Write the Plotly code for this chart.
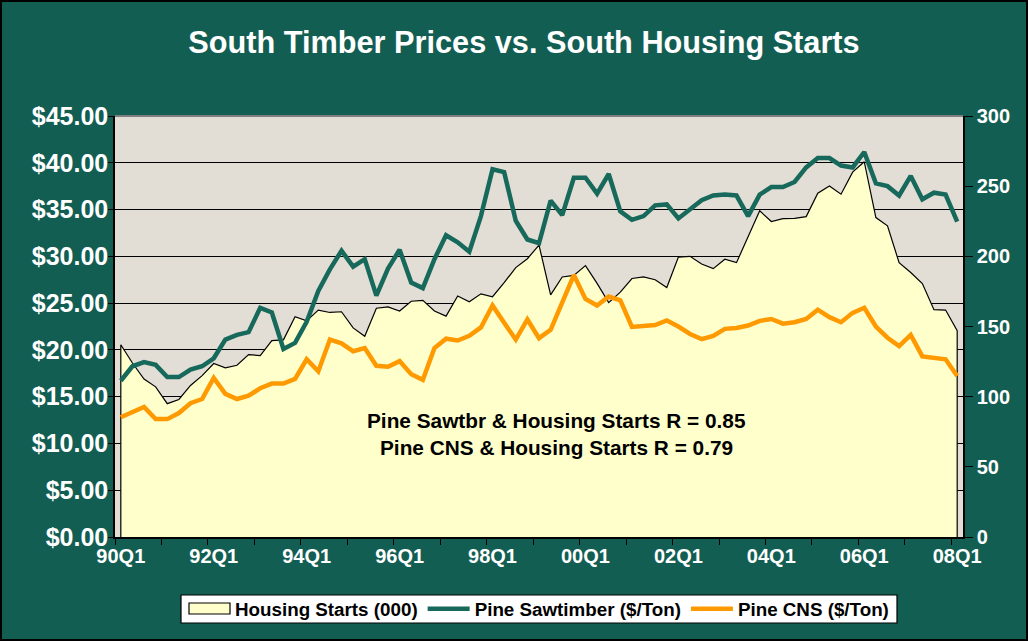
import plotly.graph_objects as go

# ---- data ----
quarters = [f"{y:02d}Q{q}" for y in list(range(90, 100)) + list(range(0, 8)) for q in (1, 2, 3, 4)] + ["08Q1"]

housing_starts = [137, 124, 112.6, 107, 95, 98, 108, 115, 123.6, 120.5, 122.4, 130, 129.3,
                  140, 140.5, 157, 154, 161.7, 160, 160.5, 149, 143, 163, 164, 161,
                  168, 168.6, 161, 157.4, 171.7, 167.6, 173.3, 171.2, 181.2, 192, 198.3, 208,
                  172.5, 185.3, 186.4, 193.4, 180.7, 167, 174.5, 184.2, 185.3, 183.3, 177.8, 199.5,
                  200, 194.5, 191.2, 197.9, 195.5, 214, 232.4, 224.8, 226.9, 227.1, 228.3, 245,
                  250.2, 244.3, 260, 267.4, 227.6, 221.7, 195.5, 188.5, 180.6, 162, 161.7, 147]

pine_sawtimber = [16.7, 18.25, 18.7, 18.4, 17.1, 17.1, 17.9, 18.25, 19.1, 21.1, 21.6, 21.9, 24.5,
                  24.0, 20.1, 20.75, 23.0, 26.3, 28.6, 30.6, 28.9, 29.7, 25.8, 28.7, 30.7,
                  27.2, 26.6, 29.7, 32.25, 31.5, 30.5, 34.3, 39.3, 39.0, 33.8, 31.8, 31.4,
                  35.95, 34.4, 38.4, 38.4, 36.7, 38.8, 34.8, 33.9, 34.3, 35.45, 35.55, 34.05,
                  35.1, 36.0, 36.5, 36.6, 36.5, 34.3, 36.6, 37.4, 37.4, 37.95, 39.5, 40.5,
                  40.5, 39.7, 39.5, 41.15, 37.8, 37.5, 36.5, 38.6, 36.1, 36.8, 36.6, 33.7]

pine_cns = [12.8, 13.4, 13.9, 12.6, 12.6, 13.25, 14.3, 14.75, 17.0, 15.3, 14.75, 15.1, 15.9,
            16.4, 16.4, 16.9, 19.0, 17.7, 21.1, 20.7, 19.85, 20.2, 18.3, 18.2, 18.8,
            17.4, 16.8, 20.2, 21.2, 21.0, 21.5, 22.4, 24.75, 22.9, 21.1, 23.25, 21.25,
            22.15, 25.0, 28.0, 25.45, 24.75, 25.7, 25.3, 22.45, 22.5, 22.65, 23.15, 22.5,
            21.7, 21.15, 21.5, 22.25, 22.35, 22.6, 23.1, 23.3, 22.8, 22.96, 23.3, 24.3,
            23.5, 22.96, 23.96, 24.5, 22.5, 21.3, 20.4, 21.6, 19.3, 19.1, 19.0, 17.2]

label_every = 8
tick_every = 4
annotation_lines = ["Pine Sawtbr & Housing Starts R = 0.85",
                    "Pine CNS & Housing Starts R = 0.79"]

# ---- figure ----
W, H = 1028, 641
ML, MR, MT, MB = 115, 65, 116, 104
PW, PH = W - ML - MR, H - MT - MB


def xp(px):
    return (px - ML) / PW


def yp(py):
    return (MT + PH - py) / PH


BG = "#135E53"
GREEN = "#17695B"
ORANGE = "#FF9900"
FILL = "#FFFFCC"
FONT = "Liberation Sans, Arial, sans-serif"

idx = list(range(len(quarters)))
n = len(quarters)

fig = go.Figure()

# legend entry for the housing area (swatch drawn as a box below)
fig.add_trace(go.Scatter(
    x=[None], y=[None], name="Housing Starts (000)", mode="lines",
    line=dict(color="rgba(0,0,0,0)", width=1), yaxis="y", hoverinfo="skip",
))

# Housing starts area (right axis, main y so it sits below the price lines)
fig.add_trace(go.Scatter(
    x=[idx[0]] + idx + [idx[-1]],
    y=[0] + housing_starts + [0],
    name="Housing Starts (000)",
    mode="lines",
    fill="toself",
    fillcolor=FILL,
    line=dict(color="black", width=1.2),
    yaxis="y",
    showlegend=False,
    hoverinfo="skip",
))

fig.add_trace(go.Scatter(
    x=idx, y=pine_sawtimber, name="Pine Sawtimber ($/Ton)",
    mode="lines", line=dict(color=GREEN, width=4.5), yaxis="y2",
))
fig.add_trace(go.Scatter(
    x=idx, y=pine_cns, name="Pine CNS ($/Ton)",
    mode="lines", line=dict(color=ORANGE, width=4.5), yaxis="y2",
))

axis_font = dict(family=FONT, size=20, color="white", weight="bold")
left_font = dict(family=FONT, size=25, color="white", weight="bold")

fig.update_layout(
    width=W, height=H, autosize=False,
    margin=dict(l=ML, r=MR, t=MT, b=MB),
    paper_bgcolor=BG,
    plot_bgcolor="#E2DED5",
    showlegend=True,
    title=dict(
        text="South Timber Prices vs. South Housing Starts",
        x=524 / W, xref="container", xanchor="center",
        y=1 - 42 / H, yref="container", yanchor="middle",
        font=dict(family=FONT, size=30.7, color="white", weight="bold"),
    ),
    xaxis=dict(
        range=[-0.5, n - 0.5],
        tickmode="array",
        tickvals=idx[::label_every],
        ticktext=quarters[::label_every],
        ticks="",
        tickfont=axis_font,
        showgrid=False, zeroline=False,
        showline=True, linecolor="black", linewidth=1.5,
        minor=dict(
            tickmode="array",
            tickvals=[i - 0.5 for i in idx[::tick_every]],
            ticks="outside", ticklen=6, tickwidth=1.2, tickcolor="black",
            showgrid=False,
        ),
    ),
    yaxis=dict(
        side="right",
        range=[0, 300], dtick=50,
        showgrid=False, zeroline=False,
        showline=True, linecolor="black", linewidth=1.5,
        ticks="outside", ticklen=8, tickwidth=1.2, tickcolor="black",
        tickfont=axis_font,
    ),
    yaxis2=dict(
        overlaying="y", side="left",
        range=[0, 45], dtick=5,
        tickprefix="$", tickformat=".2f",
        showgrid=True, gridcolor="black", gridwidth=1.2,
        zeroline=False,
        showline=True, linecolor="black", linewidth=1.5,
        ticks="outside", ticklen=5, tickwidth=1.2, tickcolor="black",
        ticklabelstandoff=-5,
        tickfont=left_font,
    ),
    legend=dict(
        orientation="h",
        x=xp(183), xanchor="left",
        y=yp(609), yanchor="middle",
        bgcolor="rgba(0,0,0,0)", borderwidth=0,
        font=dict(family=FONT, size=18.8, color="black", weight="bold"),
        itemwidth=42,
    ),
)

# correlation annotations
for k, txt in enumerate(annotation_lines):
    fig.add_annotation(
        text=txt, xref="paper", yref="paper",
        x=xp(556), y=yp(420 + 27 * k),
        xanchor="center", yanchor="middle", showarrow=False,
        font=dict(family=FONT, size=20.8, color="black", weight="bold"),
    )

# legend box and area swatch
fig.add_shape(type="rect", xref="paper", yref="paper",
              x0=xp(181), x1=xp(897), y0=yp(623), y1=yp(595),
              fillcolor="white", line=dict(color="black", width=1.2), layer="below")
fig.add_shape(type="rect", xref="paper", yref="paper",
              x0=xp(189), x1=xp(230), y0=yp(614), y1=yp(603),
              fillcolor=FILL, line=dict(color="black", width=1.2), layer="below")

# grey top border of the plot area and black frame around the chart
fig.add_shape(type="line", xref="paper", yref="paper", x0=0, x1=1, y0=1, y1=1,
              line=dict(color="#7F7F7F", width=2), layer="above")
fig.add_shape(type="rect", xref="paper", yref="paper",
              x0=xp(1), x1=xp(W - 1), y0=yp(H - 1), y1=yp(1),
              line=dict(color="black", width=2), layer="above")

fig.write_html(
    "out.html",
    config={"displayModeBar": False},
    post_script="document.body.style.margin='0';document.body.style.padding='0';"
                "document.body.style.overflow='hidden';",
)
